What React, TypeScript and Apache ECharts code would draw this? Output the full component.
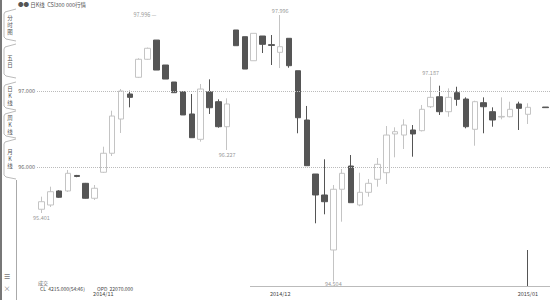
import React, { useEffect, useRef } from 'react';
import * as echarts from 'echarts';

const dates = [
  '2014/10/23', '2014/10/24', '2014/10/27', '2014/10/28', '2014/10/29', '2014/10/30', '2014/10/31',
  '2014/11/03', '2014/11/04', '2014/11/05', '2014/11/06', '2014/11/07', '2014/11/10', '2014/11/11',
  '2014/11/12', '2014/11/13', '2014/11/14', '2014/11/17', '2014/11/18', '2014/11/19', '2014/11/20',
  '2014/11/21', '2014/11/24', '2014/11/25', '2014/11/26', '2014/11/27', '2014/11/28',
  '2014/12/01', '2014/12/02', '2014/12/03', '2014/12/04', '2014/12/05', '2014/12/08', '2014/12/09',
  '2014/12/10', '2014/12/11', '2014/12/12', '2014/12/15', '2014/12/16', '2014/12/17', '2014/12/18',
  '2014/12/19', '2014/12/22', '2014/12/23', '2014/12/24', '2014/12/25', '2014/12/26', '2014/12/29',
  '2014/12/30', '2014/12/31', '2015/01/05', '2015/01/06', '2015/01/07', '2015/01/08', '2015/01/09',
  '2015/01/12', '2015/01/13', '2015/01/14'
];

const opens = [
  95.450, 95.506, 95.690, 95.690, 95.893, 95.790, 95.594, 95.935, 96.184, 96.633,
  96.961, 97.180, 97.416, 97.668, 97.341, 97.118, 96.991, 96.699, 96.367, 96.991,
  96.860, 96.532, 97.800, 97.712, 97.397, 97.721, 97.608, 97.507, 97.691, 97.266,
  96.620, 95.912, 95.637, 94.916, 95.712, 96.017, 95.506, 95.672, 95.843, 95.929,
  96.437, 96.423, 96.489, 96.480, 96.794, 96.925, 96.729, 96.978, 96.895, 96.498,
  96.847, 96.729, 96.659, 96.663, 96.830, 96.695, null, 96.790
];
const closes = [
  95.549, 95.680, 95.607, 95.921, 95.880, 95.594, 95.725, 96.184, 96.672, 97.000,
  96.917, 97.416, 97.560, 97.275, 97.157, 96.978, 96.686, 96.388, 97.026, 96.781,
  96.532, 96.830, 97.594, 97.288, 97.756, 97.612, 97.598, 97.581, 97.332, 96.650,
  96.021, 95.637, 95.549, 95.712, 95.921, 95.536, 95.672, 95.790, 96.039, 96.423,
  96.467, 96.554, 96.437, 96.760, 96.917, 96.729, 96.917, 96.891, 96.532, 96.860,
  96.794, 96.620, 96.667, 96.760, 96.773, 96.786, null, 96.782
];
const lows = [
  95.401, 95.480, 95.600, 95.677, 95.870, 95.590, 95.572, 95.925, 96.148, 96.450,
  96.786, 97.170, 97.410, 97.275, 97.157, 96.978, 96.686, 96.388, 96.336, 96.699,
  96.519, 96.227, 97.594, 97.288, 97.397, 97.498, 97.341, 97.301, 97.305, 96.446,
  96.021, 95.266, 95.384, 94.504, 95.287, 95.536, 95.490, 95.615, 95.746, 95.781,
  96.131, 96.240, 96.139, 96.470, 96.777, 96.686, 96.663, 96.807, 96.511, 96.283,
  96.446, 96.532, 96.629, 96.655, 96.489, 96.568, null, 96.782
];
const highs = [
  95.615, 95.746, 95.700, 95.965, 95.900, 95.795, 95.768, 96.270, 96.742, 97.026,
  97.004, 97.430, 97.570, 97.668, 97.341, 97.118, 96.991, 96.961, 97.092, 97.153,
  96.891, 96.904, 97.800, 97.712, 97.756, 97.721, 97.734, 97.996, 97.691, 97.266,
  96.804, 95.912, 96.105, 95.768, 95.978, 96.161, 95.929, 95.847, 96.122, 96.541,
  96.524, 96.629, 96.554, 96.817, 97.187, 97.070, 97.035, 97.056, 96.917, 96.873,
  96.917, 96.786, 96.917, 96.860, 96.860, 96.839, null, 96.790
];

const monthTickIndex = [7, 27, 55];
const monthTickLabels = ['2014/11', '2014/12', '2015/01'];
const priceLines = [97, 96];
const localHighIndex = [44];
const localLowIndex = [21, 0];
const tabLabels = ['分时图', '五日', '日K线', '周K线', '月K线'];
const titleText = '●● 日K线  CSI300 000行情';
const volumeLabel = '成交';
const infoCL = 'CL  4215.000(54:46)';
const infoOPD = 'OPD  22070.000';

const FONT = '"Noto Sans CJK SC", "Noto Sans", sans-serif';

export default function App() {
  const ref = useRef<HTMLDivElement>(null);
  useEffect(() => {
    if (!ref.current) return;
    const chart = echarts.init(ref.current, null, { renderer: 'svg' });
    const data = opens.map((o, i) =>
      o === null ? '-' : [o, closes[i], lows[i], highs[i]]
    );
    const valid = highs.map((h, i) => i).filter((i) => highs[i] !== null);
    const maxIdx = valid.reduce((a, b) => ((highs[b] as number) > (highs[a] as number) ? b : a), valid[0]);
    const minIdx = valid.reduce((a, b) => ((lows[b] as number) < (lows[a] as number) ? b : a), valid[0]);

    const smallLabel = { fontSize: 5.5, color: '#999', fontFamily: FONT };
    const markPts: any[] = [];
    markPts.push({ coord: [maxIdx, highs[maxIdx]], value: highs[maxIdx], label: { ...smallLabel, position: 'top', distance: 1 } });
    markPts.push({ coord: [13, highs[maxIdx]], value: highs[maxIdx], label: { ...smallLabel, position: 'left', distance: 0, formatter: (p: any) => p.value.toFixed(3) + ' —' } });
    markPts.push({ coord: [minIdx, lows[minIdx]], value: lows[minIdx], label: { ...smallLabel, position: 'bottom', distance: 0 } });
    localHighIndex.forEach((i) => markPts.push({ coord: [i, highs[i]], value: highs[i], label: { ...smallLabel, position: 'top', distance: 1 } }));
    localLowIndex.forEach((i) => markPts.push({ coord: [i, lows[i]], value: lows[i], label: { ...smallLabel, position: 'bottom', distance: 2 } }));

    const graphics: any[] = [];
    graphics.push({ type: 'rect', shape: { x: 17, y: 284, width: 233, height: 4.5 }, style: { fill: '#fff' }, z: 95 });
    graphics.push({ type: 'rect', shape: { x: 0, y: 0, width: 2, height: 300 }, style: { fill: '#777' }, z: 100 });
    graphics.push({ type: 'line', shape: { x1: 16.5, y1: 180, x2: 16.5, y2: 300 }, style: { stroke: '#aaa', lineWidth: 1 }, z: 100 });
    const tabs = [[9, 41], [44, 78], [82, 110], [111, 138], [139, 179]];
    tabs.forEach(([t, b], k) => {
      graphics.push({
        type: 'polyline',
        shape: { points: [[16, t], [5, t + 3], [4, t + 5], [4, b - 4], [6, b - 2], [16, b]] },
        style: { stroke: '#aaa', fill: 'none', lineWidth: 0.8 },
        z: 100
      });
      const label = tabLabels[k].split('').join('\n');
      graphics.push({
        type: 'text', x: 10, y: (t + b) / 2,
        style: { text: label, fontSize: 5.5, lineHeight: 7, fill: '#555', align: 'center', verticalAlign: 'middle', fontFamily: FONT },
        z: 101
      });
    });
    graphics.push({ type: 'text', x: 7, y: 276, style: { text: '☰', fontSize: 7, fill: '#777', align: 'center', verticalAlign: 'middle', fontFamily: FONT }, z: 100 });
    graphics.push({ type: 'text', x: 7, y: 288, style: { text: '×', fontSize: 7, fill: '#777', align: 'center', verticalAlign: 'middle', fontFamily: FONT }, z: 100 });
    graphics.push({ type: 'text', x: 18, y: 5, style: { text: titleText, fontSize: 5.5, fill: '#555', verticalAlign: 'middle', fontFamily: FONT }, z: 100 });
    graphics.push({ type: 'text', x: 38, y: 282.5, style: { text: volumeLabel, fontSize: 5, fill: '#666', verticalAlign: 'middle', fontFamily: FONT }, z: 100 });
    graphics.push({ type: 'text', x: 40, y: 288.3, style: { text: infoCL, fontSize: 5, fill: '#444', verticalAlign: 'middle', fontFamily: FONT }, z: 100 });
    graphics.push({ type: 'text', x: 97, y: 288.3, style: { text: infoOPD, fontSize: 5, fill: '#444', verticalAlign: 'middle', fontFamily: FONT }, z: 100 });
    graphics.push({ type: 'line', shape: { x1: 527.5, y1: 250, x2: 527.5, y2: 286 }, style: { stroke: '#555', lineWidth: 1 }, z: 90 });

    chart.setOption({
      animation: false,
      backgroundColor: '#fff',
      grid: { left: 37, top: 10, width: 518, height: 276, containLabel: false },
      xAxis: {
        type: 'category',
        data: dates,
        boundaryGap: true,
        axisLine: { lineStyle: { color: '#bbb' } },
        axisTick: { show: false },
        splitLine: { show: false },
        axisLabel: {
          interval: (i: number) => monthTickIndex.includes(i),
          formatter: (v: string, i: number) => {
            const k = monthTickIndex.indexOf(i);
            return k >= 0 ? monthTickLabels[k] : '';
          },
          fontSize: 5.5,
          color: '#444',
          margin: 5.5,
          fontFamily: FONT
        }
      },
      yAxis: {
        type: 'value',
        min: 94.444,
        max: 98.062,
        show: true,
        axisLine: { show: false },
        axisTick: { show: false },
        axisLabel: { show: false },
        splitLine: { show: false }
      },
      series: [
        {
          type: 'candlestick',
          data,
          barWidth: 6,
          itemStyle: {
            color: '#ffffff',
            color0: '#555555',
            borderColor: '#c4c4c4',
            borderColor0: '#555555',
            borderWidth: 1
          },
          markLine: {
            silent: true,
            symbol: ['none', 'none'],
            lineStyle: { type: 'dotted', color: '#bbb', width: 1 },
            label: {
              position: 'start',
              distance: 2,
              fontSize: 5.5,
              color: '#666',
              fontFamily: FONT,
              formatter: (p: any) => Number(p.value).toFixed(3)
            },
            data: priceLines.map((v) => ({ yAxis: v }))
          },
          markPoint: {
            symbol: 'circle',
            symbolSize: 0,
            label: { ...smallLabel, formatter: (p: any) => Number(p.value).toFixed(3) },
            data: markPts
          }
        }
      ],
      graphic: graphics
    });
    return () => chart.dispose();
  }, []);
  return (
    <div
      ref={ref}
      style={{ position: 'fixed', left: 0, top: 0, width: 550, height: 300, background: '#fff' }}
    />
  );
}
